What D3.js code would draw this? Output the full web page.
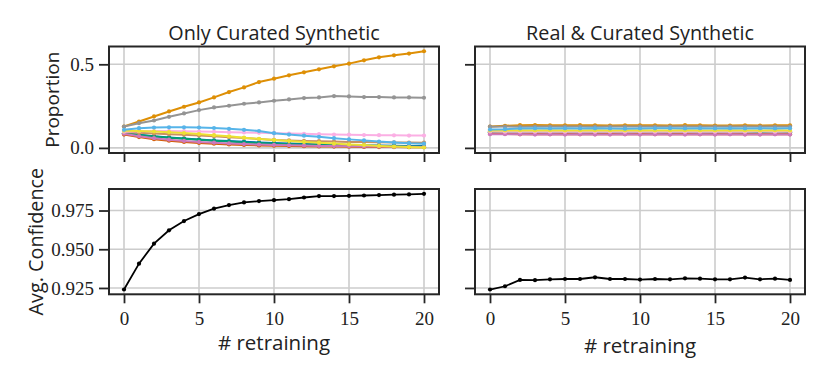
<!DOCTYPE html>
<html><head><meta charset="utf-8">
<script src="https://cdn.jsdelivr.net/npm/d3@7"></script>
<style>body{margin:0;background:#fff}svg{display:block}</style>
</head><body>
<svg id="c" width="830" height="381"></svg>
<script>
const steps = d3.range(0, 21);
const colors = ["#0173b2","#de8f05","#029e73","#d55e00","#cc78bc","#ca9161","#fbafe4","#949494","#ece133","#56b4e9"];
const titles = ["Only Curated Synthetic", "Real & Curated Synthetic"];
const propTicks = [0.0, 0.5];
const confTicks = [0.925, 0.950, 0.975];
const xTicks = [0, 5, 10, 15, 20];

// proportion per class, "Only Curated Synthetic"
const propOnly = [
 [0.088,0.078,0.069,0.062,0.056,0.050,0.045,0.041,0.037,0.033,0.030,0.027,0.024,0.022,0.020,0.018,0.016,0.015,0.013,0.012,0.011],
 [0.128,0.158,0.188,0.218,0.246,0.272,0.302,0.334,0.362,0.394,0.414,0.434,0.452,0.470,0.488,0.504,0.524,0.542,0.554,0.564,0.578],
 [0.088,0.077,0.068,0.061,0.055,0.049,0.043,0.038,0.033,0.029,0.025,0.022,0.019,0.017,0.015,0.013,0.012,0.010,0.009,0.008,0.007],
 [0.080,0.065,0.052,0.043,0.036,0.030,0.025,0.021,0.018,0.015,0.013,0.011,0.010,0.009,0.008,0.007,0.006,0.005,0.005,0.004,0.004],
 [0.085,0.070,0.058,0.049,0.042,0.036,0.031,0.027,0.023,0.020,0.018,0.016,0.014,0.012,0.011,0.010,0.009,0.008,0.007,0.007,0.006],
 [0.095,0.090,0.086,0.082,0.078,0.074,0.069,0.064,0.059,0.053,0.048,0.045,0.042,0.040,0.038,0.036,0.035,0.034,0.033,0.032,0.031],
 [0.097,0.100,0.101,0.101,0.100,0.098,0.096,0.094,0.092,0.090,0.088,0.086,0.084,0.082,0.080,0.079,0.077,0.076,0.075,0.074,0.074],
 [0.128,0.148,0.164,0.186,0.206,0.226,0.242,0.252,0.264,0.272,0.282,0.290,0.298,0.302,0.310,0.308,0.304,0.304,0.302,0.302,0.300],
 [0.103,0.101,0.098,0.094,0.089,0.083,0.076,0.069,0.061,0.054,0.047,0.041,0.036,0.031,0.026,0.021,0.017,0.012,0.008,0.005,0.003],
 [0.108,0.118,0.122,0.123,0.123,0.122,0.119,0.114,0.108,0.101,0.088,0.080,0.073,0.066,0.058,0.051,0.045,0.038,0.033,0.028,0.025]
];
// proportion per class, "Real & Curated Synthetic"
const propReal = [
 [0.092,0.091,0.092,0.091,0.092,0.091,0.092,0.091,0.092,0.091,0.092,0.091,0.092,0.091,0.092,0.091,0.092,0.091,0.092,0.091,0.092],
 [0.128,0.132,0.136,0.137,0.135,0.135,0.136,0.135,0.134,0.135,0.135,0.135,0.134,0.136,0.135,0.134,0.134,0.135,0.134,0.135,0.135],
 [0.094,0.095,0.094,0.095,0.094,0.094,0.095,0.094,0.094,0.095,0.094,0.094,0.095,0.094,0.094,0.095,0.094,0.094,0.095,0.094,0.094],
 [0.085,0.084,0.082,0.083,0.082,0.083,0.082,0.082,0.083,0.082,0.083,0.082,0.082,0.083,0.082,0.082,0.083,0.082,0.082,0.083,0.082],
 [0.082,0.082,0.081,0.080,0.081,0.080,0.081,0.080,0.080,0.081,0.080,0.081,0.080,0.080,0.081,0.080,0.081,0.080,0.080,0.081,0.080],
 [0.100,0.101,0.100,0.101,0.100,0.100,0.101,0.100,0.100,0.101,0.100,0.100,0.101,0.100,0.100,0.101,0.100,0.100,0.101,0.100,0.100],
 [0.098,0.097,0.098,0.097,0.098,0.097,0.098,0.097,0.098,0.097,0.098,0.097,0.098,0.097,0.098,0.097,0.098,0.097,0.098,0.097,0.098],
 [0.127,0.128,0.127,0.128,0.128,0.128,0.128,0.127,0.128,0.128,0.128,0.128,0.128,0.128,0.128,0.128,0.128,0.128,0.128,0.128,0.128],
 [0.104,0.104,0.105,0.104,0.105,0.104,0.104,0.105,0.104,0.104,0.105,0.104,0.104,0.105,0.104,0.104,0.105,0.104,0.104,0.105,0.104],
 [0.110,0.112,0.116,0.117,0.116,0.117,0.116,0.117,0.116,0.115,0.116,0.117,0.117,0.116,0.117,0.116,0.117,0.116,0.117,0.116,0.117]
];
const confOnly = [0.9240,0.9407,0.9536,0.9622,0.9682,0.9727,0.9762,0.9785,0.9802,0.9811,0.9817,0.9823,0.9834,0.9843,0.9843,0.9845,0.9847,0.9850,0.9852,0.9854,0.9858];
const confReal = [0.9240,0.9261,0.9302,0.9300,0.9306,0.9308,0.9308,0.9319,0.9308,0.9308,0.9304,0.9308,0.9306,0.9312,0.9310,0.9306,0.9306,0.9317,0.9306,0.9310,0.9302];

const svg = d3.select("#c");
const ink = "#262626";
const tickFont = "Liberation Serif, DejaVu Serif, serif";
const labFont = "Open Sans, DejaVu Sans, sans-serif";

const cols = [[109, 439], [475, 805]];
const rows = [[46.5, 153], [189, 294.3]];

const x = cols.map(c => d3.scaleLinear().domain([-1, 21]).range(c));
const yProp = d3.scaleLinear().domain([-0.0305, 0.6065]).range([rows[0][1], rows[0][0]]);
const yConf = d3.scaleLinear().domain([0.92091, 0.98889]).range([rows[1][1], rows[1][0]]);

function styleAxis(g) {
  g.attr("font-family", tickFont).attr("font-size", 19);
  g.select(".domain").remove();
  g.selectAll(".tick line").attr("stroke", ink).attr("stroke-width", 1.8);
  g.selectAll(".tick text").attr("font-family", tickFont).attr("font-size", 19).attr("fill", "#222");
}

function panel(ci, ri, y, yt, showYLabels, showXLabels, drawFn) {
  const g = svg.append("g");
  const xs = x[ci];
  const [y0, y1] = rows[ri];
  g.selectAll(".gx").data(xTicks).join("line")
    .attr("x1", d => xs(d)).attr("x2", d => xs(d)).attr("y1", y0).attr("y2", y1)
    .attr("stroke", "#cccccc").attr("stroke-width", 1.6);
  g.selectAll(".gy").data(yt).join("line")
    .attr("y1", d => y(d)).attr("y2", d => y(d)).attr("x1", cols[ci][0]).attr("x2", cols[ci][1])
    .attr("stroke", "#cccccc").attr("stroke-width", 1.6);
  drawFn(g, xs, y);
  g.append("rect").attr("x", cols[ci][0]).attr("y", y0)
    .attr("width", cols[ci][1] - cols[ci][0]).attr("height", y1 - y0)
    .attr("fill", "none").attr("stroke", ink).attr("stroke-width", 2);
  const ax = d3.axisBottom(xs).tickValues(xTicks).tickSize(9).tickPadding(8)
    .tickFormat(showXLabels ? d3.format("d") : () => "");
  svg.append("g").attr("transform", `translate(0,${y1})`).call(ax).call(styleAxis);
  const fmt = ri === 0 ? d3.format(".1f") : d3.format(".3f");
  const ay = d3.axisLeft(y).tickValues(yt).tickSize(10).tickPadding(5)
    .tickFormat(showYLabels ? fmt : () => "");
  svg.append("g").attr("transform", `translate(${cols[ci][0]},0)`).call(ay).call(styleAxis);
}

function propLines(data) {
  return (g, xs, y) => {
    const line = d3.line().x((d, i) => xs(steps[i])).y(d => y(d));
    data.forEach((s, k) => {
      g.append("path").attr("d", line(s)).attr("fill", "none")
        .attr("stroke", colors[k]).attr("stroke-width", 2);
      g.selectAll(null).data(s).join("circle")
        .attr("cx", (d, i) => xs(steps[i])).attr("cy", d => y(d)).attr("r", 2.1)
        .attr("fill", colors[k]);
    });
  };
}
function confLine(data) {
  return (g, xs, y) => {
    const line = d3.line().x((d, i) => xs(steps[i])).y(d => y(d));
    g.append("path").attr("d", line(data)).attr("fill", "none")
      .attr("stroke", "#000").attr("stroke-width", 1.8);
    g.selectAll(null).data(data).join("circle")
      .attr("cx", (d, i) => xs(steps[i])).attr("cy", d => y(d)).attr("r", 2.1)
      .attr("fill", "#000");
  };
}

panel(0, 0, yProp, propTicks, true, false, propLines(propOnly));
panel(1, 0, yProp, propTicks, false, false, propLines(propReal));
panel(0, 1, yConf, confTicks, true, true, confLine(confOnly));
panel(1, 1, yConf, confTicks, false, true, confLine(confReal));

function label(txt, xPos, yPos, size, rot) {
  const t = svg.append("text").attr("text-anchor", "middle")
    .attr("font-family", labFont).attr("font-size", size).attr("fill", "#222").text(txt);
  if (rot) t.attr("transform", `translate(${xPos},${yPos}) rotate(-90)`);
  else t.attr("x", xPos).attr("y", yPos);
}
titles.forEach((t, i) => label(t, (cols[i][0] + cols[i][1]) / 2, 40, 19.8, false));
label("# retraining", 274, 350, 20.5, false);
label("# retraining", 640, 353, 20.5, false);
label("Proportion", 59, (rows[0][0] + rows[0][1]) / 2, 19, true);
label("Avg. Confidence", 43, (rows[1][0] + rows[1][1]) / 2, 19.8, true);
</script>
</body></html>
